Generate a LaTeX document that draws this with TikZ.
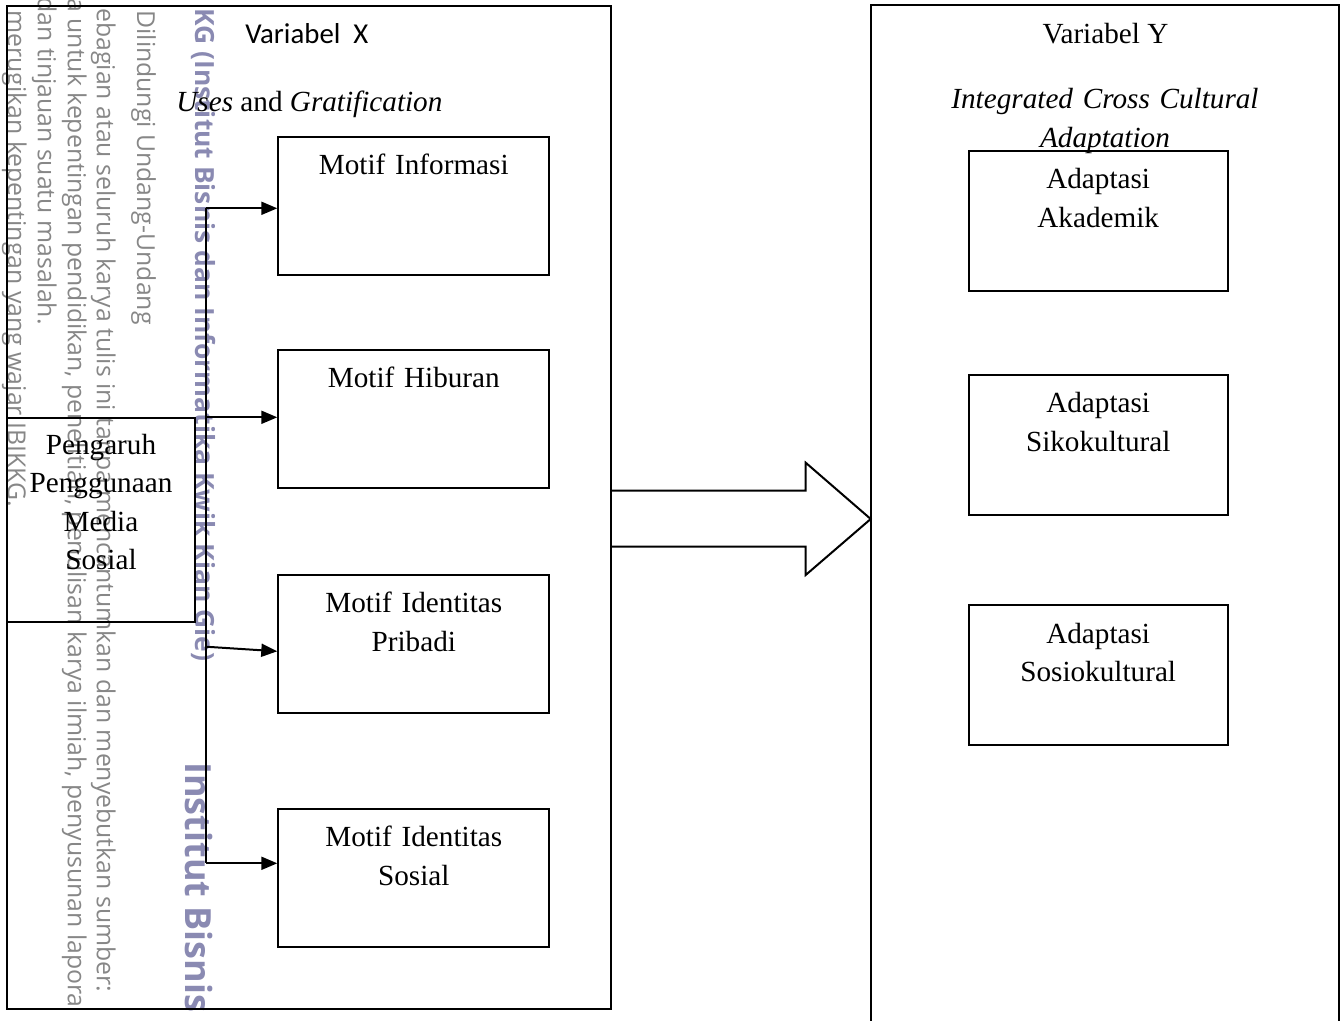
\documentclass[tikz,border=0pt]{standalone}
\usepackage{fontspec}
\setmainfont{Liberation Serif}
\newfontfamily\calibrifont{Carlito}
\newfontfamily\wmfont{Open Sans}
\usetikzlibrary{arrows.meta,positioning}
\definecolor{wmgray}{RGB}{135,135,135}
\definecolor{wmblue}{RGB}{138,138,178}
\tikzset{
    kotak/.style={
    rectangle,draw=black,line width=1pt,inner sep=0pt,align=center,
    font=\fontsize{14.6}{19.3}\selectfont
    },
    motif/.style={
    kotak,anchor=north west,text width=135.5pt,text height=18.7pt,text depth=50.3pt
    },
    adaptasi/.style={
    kotak,anchor=north west,text width=129.5pt,text height=19pt,text depth=51pt
    },
    judul/.style={
    inner sep=0pt,font=\fontsize{14.6}{19.3}\selectfont
    },
    watermark/.style={
    rotate=-90,anchor=base west,inner sep=0pt,text=wmgray,
    font=\wmfont\fontsize{12.4}{14}\selectfont
    },
    panah/.style={
    -{Triangle[length=8pt,width=6.5pt]},line width=1pt
    },
}
\begin{document}
\begin{tikzpicture}[x=0.5pt,y=-0.5pt]
   \useasboundingbox (0,0) rectangle (1341,1021);
   \node[watermark] (w1) at (137,10) {Dilindungi Undang-Undang};
   \node[watermark] (w2) at (97,8) {ebagian atau seluruh karya tulis ini tanpa mencantumkan dan menyebutkan sumber:};
   \node[watermark] (w3) at (68,-2) {a untuk kepentingan pendidikan, penelitian, penulisan karya ilmiah, penyusunan lapora};
   \node[watermark] (w4) at (38,-3) {dan tinjauan suatu masalah.};
   \node[watermark] (w5) at (8,10) {merugikan kepentingan yang wajar IBIKKG.};
   \node[watermark,text=wmblue,font=\wmfont\bfseries\fontsize{13.2}{15}\selectfont] (w6) at (195,8) {KG (Institut Bisnis dan Informatika Kwik Kian Gie)};
   \node[watermark,text=wmblue,font=\wmfont\bfseries\fontsize{18}{21}\selectfont] (w7) at (185,762) {Institut Bisnis};

   \node[draw,line width=1pt,inner sep=0pt,anchor=north west,minimum width=302pt,minimum height=501.25pt] (varX) at (6,5.5) {};
   \draw[line width=1pt] (871,1030) -- (871,5.5) -- (1339,5.5) -- (1339,1030);

   \node[judul,font=\calibrifont\fontsize{14.4}{17}\selectfont,anchor=base west] (judulX) at (245,43.3) {Variabel\ \ X};
   \node[judul,anchor=base west] (teoriX) at (176,112) {\textit{Uses} and \textit{Gratification}};
   \node[judul,anchor=base] (judulY) at (1105.5,43.3) {Variabel Y};
   \node[judul,align=center,text width=170pt,text height=10pt,anchor=north] (teoriY) at (1105,88.3) {\textit{Integrated Cross Cultural}\\\textit{Adaptation}};

   \node[kotak,anchor=north west,text width=94pt,text height=17.9pt,text depth=83.8pt] (pengaruh) at (6,417.3) {Pengaruh\\Penggunaan\\Media\\Sosial};

   \node[motif] (info) at (277.3,136) {Motif Informasi};
   \node[motif] (hiburan) at (277.3,349) {Motif Hiburan};
   \node[motif] (pribadi) at (277.3,574.3) {Motif Identitas\\Pribadi};
   \node[motif] (sosial) at (277.3,808.3) {Motif Identitas\\Sosial};

   \node[adaptasi] (akademik) at (967.7,150) {Adaptasi\\Akademik};
   \node[adaptasi] (siko) at (967.7,374) {Adaptasi\\Sikokultural};
   \node[adaptasi] (sosio) at (967.7,604.3) {Adaptasi\\Sosiokultural};

   \coordinate (j1) at (205.7,208.3);
   \coordinate (j2) at (205.7,417.3);
   \coordinate (j3) at (205.7,646.7);
   \coordinate (j4) at (205.7,863.3);
   \draw[line width=1pt] (j1) -- (j4);
   \path[panah]
     (j1) edge (j1 -| info.west)
     (j2) edge (j2 -| hiburan.west)
     (j3) edge ([yshift=-3.5pt]pribadi.west)
     (j4) edge (j4 -| sosial.west);

   \draw[line width=1pt,line join=miter] (610,490.7) -- (805.7,490.7) -- (805.7,462.7)
     -- (870.7,519) -- (805.7,575) -- (805.7,546.7) -- (610,546.7);
\end{tikzpicture}
\end{document}
